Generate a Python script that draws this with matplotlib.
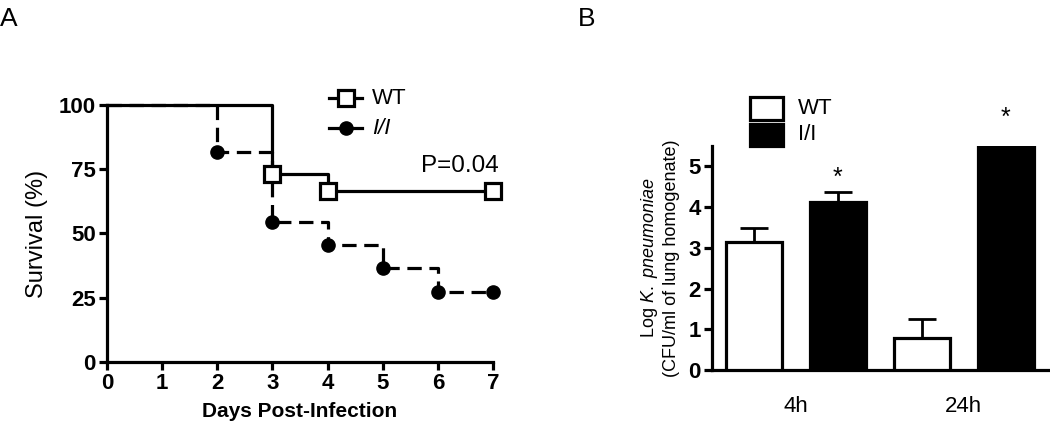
import matplotlib

matplotlib.use("Agg")
import matplotlib.pyplot as plt
import numpy as np

plt.rcParams["font.family"] = ["Liberation Sans", "DejaVu Sans"]
plt.rcParams["mathtext.fontset"] = "custom"
plt.rcParams["mathtext.rm"] = "Liberation Sans"
plt.rcParams["mathtext.it"] = "Liberation Sans:italic"

# Panel A: Kaplan-Meier survival
days = [0, 1, 2, 3, 4, 5, 6, 7]
wt_days = [0, 3, 4, 7]
wt_surv = [100, 73.3, 66.7, 66.7]
wt_mark_days = [3, 4, 7]
wt_mark_surv = [73.3, 66.7, 66.7]
ii_days = [0, 2, 3, 4, 5, 6, 7]
ii_surv = [100, 81.8, 54.5, 45.5, 36.4, 27.3, 27.3]
ii_mark_days = [2, 3, 4, 5, 6, 7]
ii_mark_surv = [81.8, 54.5, 45.5, 36.4, 27.3, 27.3]
surv_ticks = [0, 25, 50, 75, 100]

# Panel B: bacterial burden
groups = ["4h", "24h"]
wt_cfu = [3.15, 0.79]
wt_err = [0.33, 0.46]
ii_cfu = [4.13, 5.48]
ii_err = [0.23, 0.02]
cfu_ticks = [0, 1, 2, 3, 4, 5]

LW = 2.3
DASH = (0, (4.5, 2.4))

fig = plt.figure(figsize=(10.5, 4.44), dpi=100)

# ---- Panel A
ax = fig.add_axes([0.1019, 0.1847, 0.3676, 0.5788])
ax.step(ii_days, ii_surv, where="post", color="black", lw=LW, ls=DASH, clip_on=False)
ax.step(wt_days, wt_surv, where="post", color="black", lw=LW, clip_on=False)
ax.plot(ii_mark_days, ii_mark_surv, "o", color="black", ms=9.5, clip_on=False, zorder=5)
ax.plot(wt_mark_days, wt_mark_surv, "s", mfc="white", mec="black", mew=LW, ms=11.5, clip_on=False, zorder=5)
ax.set_xlim(0, 7)
ax.set_ylim(0, 100)
ax.set_xticks(days)
ax.set_yticks(surv_ticks)
for side in ("top", "right"):
    ax.spines[side].set_visible(False)
for side in ("left", "bottom"):
    ax.spines[side].set_linewidth(LW)
ax.tick_params(width=LW, length=6, labelsize=16, pad=2)
for lab in ax.get_xticklabels() + ax.get_yticklabels():
    lab.set_fontweight("bold")
ax.set_xlabel("Days Post-Infection", fontsize=15, fontweight="bold", labelpad=6)
ax.set_ylabel("Survival (%)", fontsize=17, labelpad=8)
ax.text(7.11, 72, "P=0.04", fontsize=17.5, ha="right", va="bottom")

# legend drawn by hand in axes space
lx = [4.03, 4.63]
for yv, label, style in [(102.7, "WT", "wt"), (91.0, "I/I", "ii")]:
    ax.plot(lx, [yv, yv], color="black", lw=LW, clip_on=False)
    if style == "wt":
        ax.plot([np.mean(lx)], [yv], "s", mfc="white", mec="black", mew=LW, ms=11.5, clip_on=False)
        ax.text(4.81, yv, label, fontsize=16, va="center")
    else:
        ax.plot([np.mean(lx)], [yv], "o", color="black", ms=9.5, clip_on=False)
        ax.text(4.81, yv, label, fontsize=16, va="center", style="italic")

fig.text(0.0, 0.985, "A", fontsize=19, va="top", ha="left")

# ---- Panel B
bx = fig.add_axes([0.678, 0.1667, 0.320, 0.5045])
x = np.arange(4)
vals = [wt_cfu[0], ii_cfu[0], wt_cfu[1], ii_cfu[1]]
errs = [wt_err[0], ii_err[0], wt_err[1], ii_err[1]]
colors = ["white", "black", "white", "black"]
bx.bar(x, vals, width=0.667, color=colors, edgecolor="black", lw=LW, zorder=3)
bx.errorbar(x, vals, yerr=[np.zeros(4), errs], fmt="none", ecolor="black",
            elinewidth=2, capsize=10, capthick=2, zorder=2)
bx.set_xlim(-0.5, 3.5)
bx.set_ylim(0, 5.5)
bx.set_yticks(cfu_ticks)
bx.set_xticks([0.5, 2.5])
bx.set_xticklabels(groups, fontsize=16)
bx.tick_params(axis="x", length=0, pad=19)
bx.tick_params(axis="y", width=LW, length=6, labelsize=16, pad=2)
for lab in bx.get_yticklabels():
    lab.set_fontweight("bold")
for side in ("top", "right"):
    bx.spines[side].set_visible(False)
for side in ("left", "bottom"):
    bx.spines[side].set_linewidth(LW)
bx.set_ylabel("Log $\\it{K.}$ $\\it{pneumoniae}$\n(CFU/ml of lung homogenate)", fontsize=13, labelpad=6,
              linespacing=1.25)
bx.text(1, 4.72, "*", fontsize=18, ha="center", va="center")
bx.text(3, 6.2, "*", fontsize=18, ha="center", va="center", clip_on=False)

# legend boxes
for yv, label, fc in [(6.42, "WT", "white"), (5.77, "I/I", "black")]:
    bx.add_patch(plt.Rectangle((-0.05, yv - 0.28), 0.4, 0.56, facecolor=fc, edgecolor="black",
                               lw=LW, clip_on=False))
    bx.text(0.52, yv, label, fontsize=16, va="center")

fig.text(0.55, 0.985, "B", fontsize=19, va="top", ha="left")

fig.savefig("out.png", dpi=100)
